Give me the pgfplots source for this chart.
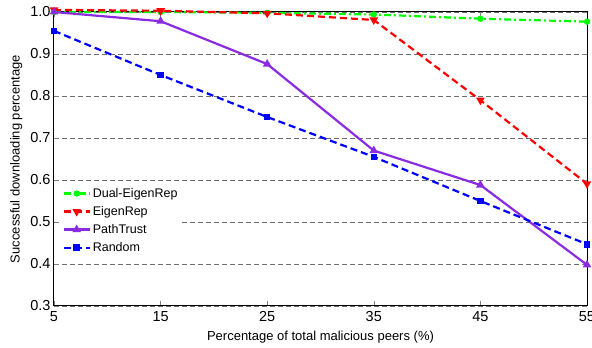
\documentclass[border=0pt]{standalone}
\usepackage{pgfplots}
\pgfplotsset{compat=1.18}
\usepackage{fontspec}
\setmainfont{Liberation Sans}
\definecolor{ptpurple}{RGB}{138,43,226}
\begin{document}
\begin{tikzpicture}
\begin{axis}[
  at={(0,0)}, anchor=south west,
  scale only axis, width=533pt, height=294pt,
  xmin=5, xmax=55, ymin=0.3, ymax=1.0,
  xtick={5,15,25,35,45,55},
  ytick={0.3,0.4,0.5,0.6,0.7,0.8,0.9,1.0},
  yticklabel style={/pgf/number format/fixed, /pgf/number format/fixed zerofill, /pgf/number format/precision=1},
  /pgf/number format/assume math mode=true,
  tick label style={font=\fontsize{14.5}{16}\selectfont},
  xticklabel style={yshift=-2pt},
  label style={font=\fontsize{13}{15}\selectfont},
  xlabel={Percentage of total malicious peers (\%)},
  ylabel={Successful downloading percentage},
  xlabel style={yshift=-2pt},
  ylabel style={yshift=1pt},
  tick align=inside,
  major tick length=5pt,
  ymajorgrids,
  major grid style={dash pattern=on 5pt off 3pt, gray!85!black, line width=0.7pt},
  axis line style={line width=1pt},
  clip=false,
  legend style={at={(0.012,0.415)}, anchor=north west, draw=none, fill=white,
    font=\fontsize{12.5}{14}\selectfont, row sep=3.5pt, inner xsep=2pt},
  legend image code/.code={\draw[mark repeat=2,mark phase=2,#1] plot coordinates {(0pt,0pt) (13pt,0pt) (26pt,0pt)};},
  legend cell align=left,
]
\addplot[green, dash pattern=on 7pt off 3pt on 2pt off 3pt, line width=2.2pt, mark=*, mark size=2pt, mark options={solid}]
  coordinates {(5,1.0) (15,1.0) (25,0.998) (35,0.994) (45,0.984) (55,0.977)};
\addlegendentry{Dual-EigenRep}
\addplot[red, dash pattern=on 7pt off 4pt, line width=2.2pt, mark=triangle*, mark size=2.8pt, mark options={solid, rotate=180}]
  coordinates {(5,1.005) (15,1.003) (25,0.997) (35,0.981) (45,0.79) (55,0.591)};
\addlegendentry{EigenRep}
\addplot[ptpurple, solid, line width=2.2pt, mark=triangle*, mark size=2.8pt]
  coordinates {(5,1.0) (15,0.978) (25,0.876) (35,0.67) (45,0.588) (55,0.398)};
\addlegendentry{PathTrust}
\addplot[blue, dash pattern=on 7pt off 4pt, line width=2.2pt, mark=square*, mark size=2.2pt, mark options={solid}]
  coordinates {(5,0.955) (15,0.85) (25,0.75) (35,0.655) (45,0.55) (55,0.447)};
\addlegendentry{Random}
\end{axis}
\pgfresetboundingbox
\path[use as bounding box] (-54pt,-42pt) rectangle (538pt,306pt);
\end{tikzpicture}
\end{document}
